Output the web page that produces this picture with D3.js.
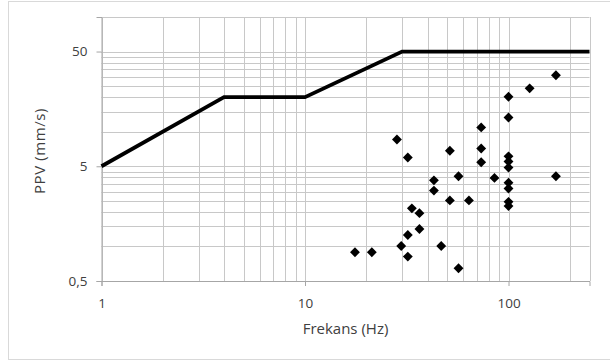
<!DOCTYPE html>
<html><head><meta charset="utf-8">
<script src="https://cdn.jsdelivr.net/npm/d3@7"></script>
<style>body{margin:0;background:#fff}svg{display:block}text{font-family:"Open Sans",sans-serif;fill:#404040}</style>
</head><body>
<svg id="c" width="610" height="364"></svg>
<script>
const limitFreq = [1, 4, 10, 30, 250];
const limitPPV  = [5, 20, 20, 50, 50];
const measFreq = [171,127,100,100,73.4,28.3,32.0,51.5,73.4,73.4,100,100,100,100,100,100,100,56.8,85.3,171,43.0,43.0,51.5,63.9,33.5,36.5,36.5,32.0,29.7,46.7,32.0,17.6,21.3,56.8];
const measPPV  = [31.1,23.9,20.2,13.3,10.9,8.56,5.96,6.82,7.15,5.42,6.1,5.5,4.87,3.6,3.2,2.45,2.25,4.09,3.96,4.09,3.77,3.07,2.52,2.52,2.15,1.95,1.42,1.26,1.01,1.01,0.816,0.891,0.891,0.646];
const xTicks = [1, 10, 100];
const yTicks = [0.5, 5, 50];
const yTickLabels = ["0,5", "5", "50"];
const xTitle = "Frekans (Hz)";
const yTitle = "PPV (mm/s)";

const svg = d3.select("#c");
svg.append("rect").attr("x",8.5).attr("y",1.5).attr("width",620).attr("height",358).attr("fill","none").attr("stroke","#d9d9d9");

const L=101.5, R=589.5, T=17, B=281;
const x = d3.scaleLog().domain([1,250]).range([L,R]);
const y = d3.scaleLog().domain([0.5,100]).range([B,T]);

// vertical grid
const xGrid=[];
for (const d of [1,10,100]) for (let k=1;k<10;k++){ const v=d*k; if(v<=250) xGrid.push(v); }
xGrid.push(250);
svg.append("g").selectAll("line").data(xGrid).join("line")
  .attr("x1",d=>Math.round(x(d))+0.5).attr("x2",d=>Math.round(x(d))+0.5)
  .attr("y1",T).attr("y2",B).attr("stroke","#c8c8c8");
// horizontal grid
const yGrid=[];
for (const d of [0.5,5,50]) for (let k=1;k<=10;k++){ const v=d*k; if(v<=100) yGrid.push(v); }
svg.append("g").selectAll("line").data(yGrid).join("line")
  .attr("y1",d=>Math.round(y(d))+0.5).attr("y2",d=>Math.round(y(d))+0.5)
  .attr("x1",L).attr("x2",R).attr("stroke","#c8c8c8");

// axes
const xAxis = d3.axisBottom(x).tickValues(xTicks).tickFormat(d3.format("d")).tickSize(5).tickPadding(12);
const gx = svg.append("g").attr("transform",`translate(0,${B})`).call(xAxis);
gx.select(".domain").attr("stroke","#a6a6a6");
gx.selectAll(".tick line").attr("stroke","#a6a6a6");
gx.selectAll("text").attr("font-size",13.5).attr("font-family","Open Sans").attr("fill","#404040");
const yAxis = d3.axisLeft(y).tickValues(yTicks).tickFormat((d,i)=>yTickLabels[i]).tickSize(5).tickPadding(9);
const gy = svg.append("g").attr("transform",`translate(${L},0)`).call(yAxis);
gy.select(".domain").attr("stroke","#a6a6a6");
gy.selectAll(".tick line").attr("stroke","#a6a6a6");
gy.selectAll("text").attr("font-size",13.5).attr("font-family","Open Sans").attr("fill","#404040");

// limit line
const line = d3.line().x((d,i)=>x(limitFreq[i])).y(d=>y(d));
svg.append("path").datum(limitPPV).attr("d",line).attr("fill","none").attr("stroke","#000").attr("stroke-width",3.8).attr("stroke-linejoin","miter");

// points
const diamond = d3.symbol().type(d3.symbolDiamond2).size(62);
svg.append("g").selectAll("path").data(measFreq).join("path")
  .attr("transform",(d,i)=>`translate(${x(d)},${y(measPPV[i])})`)
  .attr("d",diamond).attr("fill","#000");

svg.append("text").attr("x",(L+R)/2).attr("y",334).attr("text-anchor","middle").attr("font-size",15).text(xTitle);
svg.append("text").attr("transform",`translate(44.5,151) rotate(-90)`).attr("text-anchor","middle").attr("font-size",15).attr("letter-spacing",0.6).text(yTitle);
</script>
</body></html>
